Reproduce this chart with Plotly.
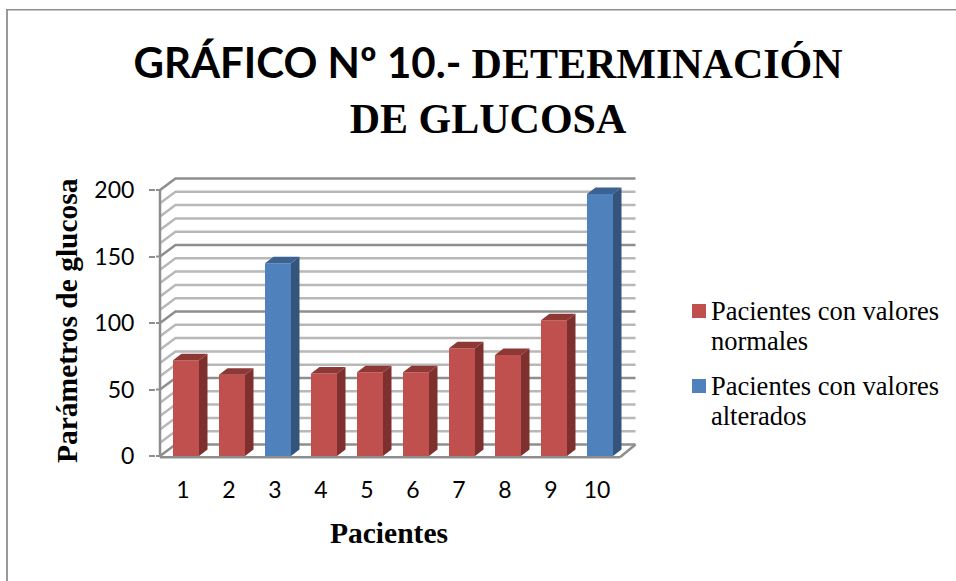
import plotly.graph_objects as go

pacientes = [1, 2, 3, 4, 5, 6, 7, 8, 9, 10]
normales = [72, 61, None, 62, 63, 63, 81, 76, 102, None]
alterados = [None, None, 145, None, None, None, None, None, None, 197]
y_ticks = [0, 50, 100, 150, 200]
minor_levels = list(range(0, 201, 10))
legend_rojo = ["Pacientes con valores", "normales"]
legend_azul = ["Pacientes con valores", "alterados"]

SERIF = "'Liberation Serif'"
SANS = "Lato"
ROJO, AZUL = "#C0504D", "#4F81BD"
GRID_MAJOR, GRID_MINOR = "#8E8E8E", "#B8B8B8"

# pixel geometry of the pseudo-3D box
W, H = 956, 581
L, R, T, B = 156, 642, 170, 460
AX_X, AX_Y = 160, 456
PX_X = 46.0
PX_Y = 1.33
x0 = 0.5
x_min = x0 - (AX_X - L) / PX_X
x_max = x0 + (R - AX_X) / PX_X
y_min = -(B - AX_Y) / PX_Y
y_max = (AX_Y - T) / PX_Y
wall_dx, wall_dy = 15.5 / PX_X, 11.5 / PX_Y
bar_dx, bar_dy = 8.5 / PX_X, 6.5 / PX_Y
bar_w = 26 / PX_X
bar_shift = 3 / PX_X
x_end = 10.5


def faces(values):
    sx, sy, tx, ty = [], [], [], []
    for p, v in zip(pacientes, values):
        if v is None:
            continue
        xl, xr = p + bar_shift - bar_w / 2, p + bar_shift + bar_w / 2
        sx += [xr, xr + bar_dx, xr + bar_dx, xr, xr, None]
        sy += [0, bar_dy, v + bar_dy, v, 0, None]
        tx += [xl, xl + bar_dx, xr + bar_dx, xr, xl, None]
        ty += [v, v + bar_dy, v + bar_dy, v, v, None]
    return sx, sy, tx, ty


fig = go.Figure()
series = [
    ("Pacientes con valores normales", normales, ROJO, "#7E302E", "#8E3835"),
    ("Pacientes con valores alterados", alterados, AZUL, "#34547C", "#3C6291"),
]
for name, vals, front, side, top in series:
    fig.add_trace(go.Bar(
        x=[p + bar_shift for p in pacientes], y=vals, name=name, width=bar_w,
        marker=dict(color=front, line=dict(width=0)), showlegend=False,
    ))
for name, vals, front, side, top in series:
    sx, sy, tx, ty = faces(vals)
    fig.add_trace(go.Scatter(x=sx, y=sy, mode="lines", fill="toself", fillcolor=side,
                             line=dict(width=0, color=side), showlegend=False, hoverinfo="skip"))
    fig.add_trace(go.Scatter(x=tx, y=ty, mode="lines", fill="toself", fillcolor=top,
                             line=dict(width=0, color=top), showlegend=False, hoverinfo="skip"))

px = lambda v: (v - L) / (R - L)
py = lambda v: (B - v) / (B - T)

shapes = []
for v in minor_levels:
    major = v % 50 == 0
    col = GRID_MAJOR if major else GRID_MINOR
    path = f"M{x0},{v} L{x0 + wall_dx},{v + wall_dy} L{x_end + wall_dx},{v + wall_dy}"
    shapes.append(dict(type="path", path=path, xref="x", yref="y", layer="below",
                       line=dict(color=col, width=2.5)))
    if major:  # stub that carries the tick mark up to the axis
        shapes.append(dict(type="line", xref="x", yref="y", x0=x_min, x1=x0, y0=v, y1=v,
                           line=dict(color=GRID_MAJOR, width=2)))
# floor and axes
shapes.append(dict(type="path", xref="x", yref="y", layer="below",
                   path=f"M{x_end},-1 L{x_end + wall_dx},{wall_dy}",
                   line=dict(color=GRID_MAJOR, width=2.5)))
shapes.append(dict(type="line", xref="x", yref="y", x0=x0, x1=x_end, y0=-1, y1=-1,
                   line=dict(color=GRID_MAJOR, width=2.5)))
shapes.append(dict(type="line", xref="x", yref="y", x0=x0, x1=x0, y0=-1, y1=200,
                   line=dict(color=GRID_MAJOR, width=2.5)))
# outer frame of the chart
shapes.append(dict(type="line", xref="paper", yref="paper", x0=px(7), x1=px(7), y0=py(9), y1=py(581),
                   line=dict(color="#9A9A9A", width=2)))
shapes.append(dict(type="line", xref="paper", yref="paper", x0=px(6), x1=px(956), y0=py(9.7), y1=py(9.7),
                   line=dict(color="#8E8E8E", width=1.5)))
# legend swatches
for col, yc in [(ROJO, 311), (AZUL, 386)]:
    shapes.append(dict(type="rect", xref="paper", yref="paper", x0=px(692), x1=px(706),
                       y0=py(yc + 7), y1=py(yc - 7), fillcolor=col, line=dict(width=0)))

annotations = []
for txt, yc in zip(legend_rojo + legend_azul, [311, 341, 386, 416]):
    annotations.append(dict(text=txt, xref="paper", yref="paper", x=px(709), y=py(yc), showarrow=False,
                            xanchor="left", yanchor="middle",
                            font=dict(family=SERIF, size=26.5, color="#000000")))
annotations.append(dict(text="<b>Parámetros de glucosa</b>", xref="paper", yref="paper", x=px(67), y=py(321),
                        showarrow=False, textangle=-90, xanchor="center", yanchor="middle",
                        font=dict(family=SERIF, size=29.5, color="#000000")))
annotations.append(dict(text="<b>Pacientes</b>", xref="paper", yref="paper", x=px(389), y=py(533),
                        showarrow=False, xanchor="center", yanchor="middle",
                        font=dict(family=SERIF, size=29.5, color="#000000")))

fig.update_layout(
    width=W, height=H, autosize=False, showlegend=False,
    margin=dict(l=L, r=W - R, t=T, b=H - B, pad=0),
    paper_bgcolor="white", plot_bgcolor="white",
    barmode="overlay", shapes=shapes, annotations=annotations,
    title=dict(
        text=f"<span style=\"font-family:{SANS}\">GRÁFICO Nº 10.- </span>DETERMINACIÓN<br>DE GLUCOSA",
        font=dict(family=SERIF, size=42, color="#000000", weight="bold"),
        x=488 / W, xanchor="center", y=1 - 78 / H, yanchor="middle",
    ),
    xaxis=dict(range=[x_min, x_max], tickmode="array", tickvals=pacientes, ticktext=[str(p) for p in pacientes],
               showgrid=False, zeroline=False, showline=False, ticks="", ticklabelstandoff=14,
               tickfont=dict(family=SANS, size=23, color="#000000")),
    yaxis=dict(range=[y_min, y_max], tickmode="array", tickvals=y_ticks, ticktext=[str(v) for v in y_ticks],
               showgrid=False, zeroline=False, showline=False, ticks="outside", ticklen=6, tickwidth=2,
               tickcolor=GRID_MAJOR, ticklabelstandoff=10,
               tickfont=dict(family=SANS, size=23, color="#000000")),
)
fig.write_html("out.html", config={"displayModeBar": False}, post_script="document.body.style.margin='0';")
